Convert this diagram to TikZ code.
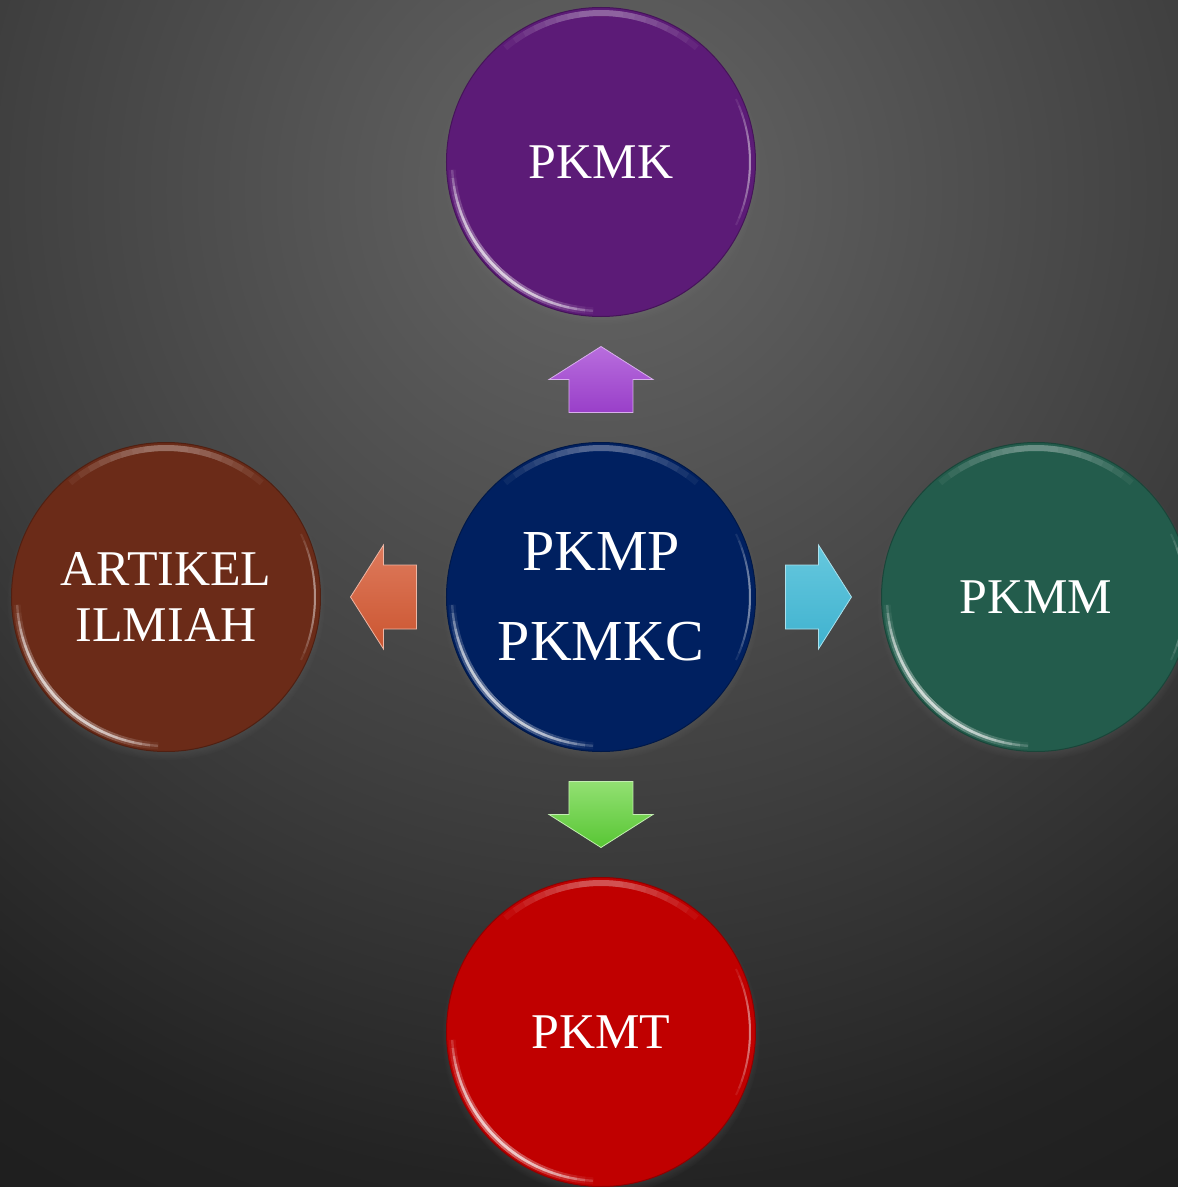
\documentclass[tikz,border=0pt]{standalone}
\usepackage{fontspec}
\setmainfont{Liberation Serif}
\usetikzlibrary{positioning,calc,shadows}

\definecolor{bgA}{HTML}{646464}
\definecolor{bgB}{HTML}{5C5C5C}
\definecolor{bgC}{HTML}{404040}
\definecolor{bgD}{HTML}{232323}
\definecolor{bgE}{HTML}{1C1C1C}
\definecolor{navyC}{HTML}{002060}
\definecolor{purpleC}{HTML}{5C1B77}
\definecolor{brownC}{HTML}{6B2B18}
\definecolor{greenC}{HTML}{235C4C}
\definecolor{redC}{HTML}{C00000}
\definecolor{upL}{HTML}{B86DDD}
\definecolor{upD}{HTML}{993FC9}
\definecolor{leftL}{HTML}{DE7A5C}
\definecolor{leftD}{HTML}{CB5530}
\definecolor{rightL}{HTML}{66C8DE}
\definecolor{rightD}{HTML}{3FB2CF}
\definecolor{downL}{HTML}{92E072}
\definecolor{downD}{HTML}{58C634}

% shading box -25bp..25bp is fitted to the path
\pgfdeclareradialshading{bgshade}{\pgfpoint{0bp}{0bp}}{color(0bp)=(bgA); color(3.2bp)=(bgB); color(12bp)=(bgC); color(20bp)=(bgD); color(25bp)=(bgE); color(50bp)=(bgE)}

\tikzset{
  pics/blockarrow/.style 2 args={code={
    \shade[top color=#1, bottom color=#2, draw=#1!55!white, line width=.8pt]
      (-33,-32) -- (0,-32) -- (0,-52) -- (33,0) -- (0,52) -- (0,32) -- (-33,32) -- cycle;
  }}
}

\begin{document}
\begin{tikzpicture}[x=1pt, y=1pt, node distance=125pt,
  ball/.style={circle, minimum size=309pt, inner sep=0pt, fill=#1, draw=#1!75!black, line width=1pt,
    text=white, align=center, font=\fontsize{50}{56}\selectfont,
    circular drop shadow={shadow xshift=0pt, shadow yshift=-4pt, shadow scale=1.03, opacity=.45},
    path picture={
      % rim highlights: arcs that fade out towards their ends
      \foreach \s/\e/\n/\w/\o in {183/267/11/2.4/.2, 183/267/11/7/.05, 50/130/7/6/.06, 335/385/7/2/.1}
        \foreach \i in {0,...,\n}{
          \pgfmathsetmacro\sa{\s+(\e-\s)*0.45*\i/(\n+1)}
          \pgfmathsetmacro\ea{\e-(\e-\s)*0.45*\i/(\n+1)}
          \draw[#1!15!white, opacity=\o, line width=\w pt]
            ($(path picture bounding box.center)+(\sa:149pt)$) arc[start angle=\sa, end angle=\ea, radius=149pt];
        }
    }},
]
    % background
    \useasboundingbox (-601,-590) rectangle (577,597);
    \begin{scope}
      \clip (-601,-590) rectangle (577,597);
      \shade[shading=bgshade] (0,407) circle (1250pt);
    \end{scope}

    \node[ball=navyC, font=\fontsize{58}{90}\selectfont] (c) {PKMP\\PKMKC};
    \node[ball=purpleC, above=of c] (pkmk) {PKMK};
    \node[ball=brownC, left=of c] (artikel) {ARTIKEL\\ILMIAH};
    \node[ball=greenC, right=of c] (pkmm) {PKMM};
    \node[ball=redC, below=of c] (pkmt) {PKMT};

    \pic[rotate=90] at ($(c.north)!.5!(pkmk.south)$) {blockarrow={upL}{upD}};
    \pic[rotate=180] at ($(c.west)!.5!(artikel.east)$) {blockarrow={leftL}{leftD}};
    \pic at ($(c.east)!.5!(pkmm.west)$) {blockarrow={rightL}{rightD}};
    \pic[rotate=-90] at ($(c.south)!.5!(pkmt.north)$) {blockarrow={downL}{downD}};
\end{tikzpicture}
\end{document}
